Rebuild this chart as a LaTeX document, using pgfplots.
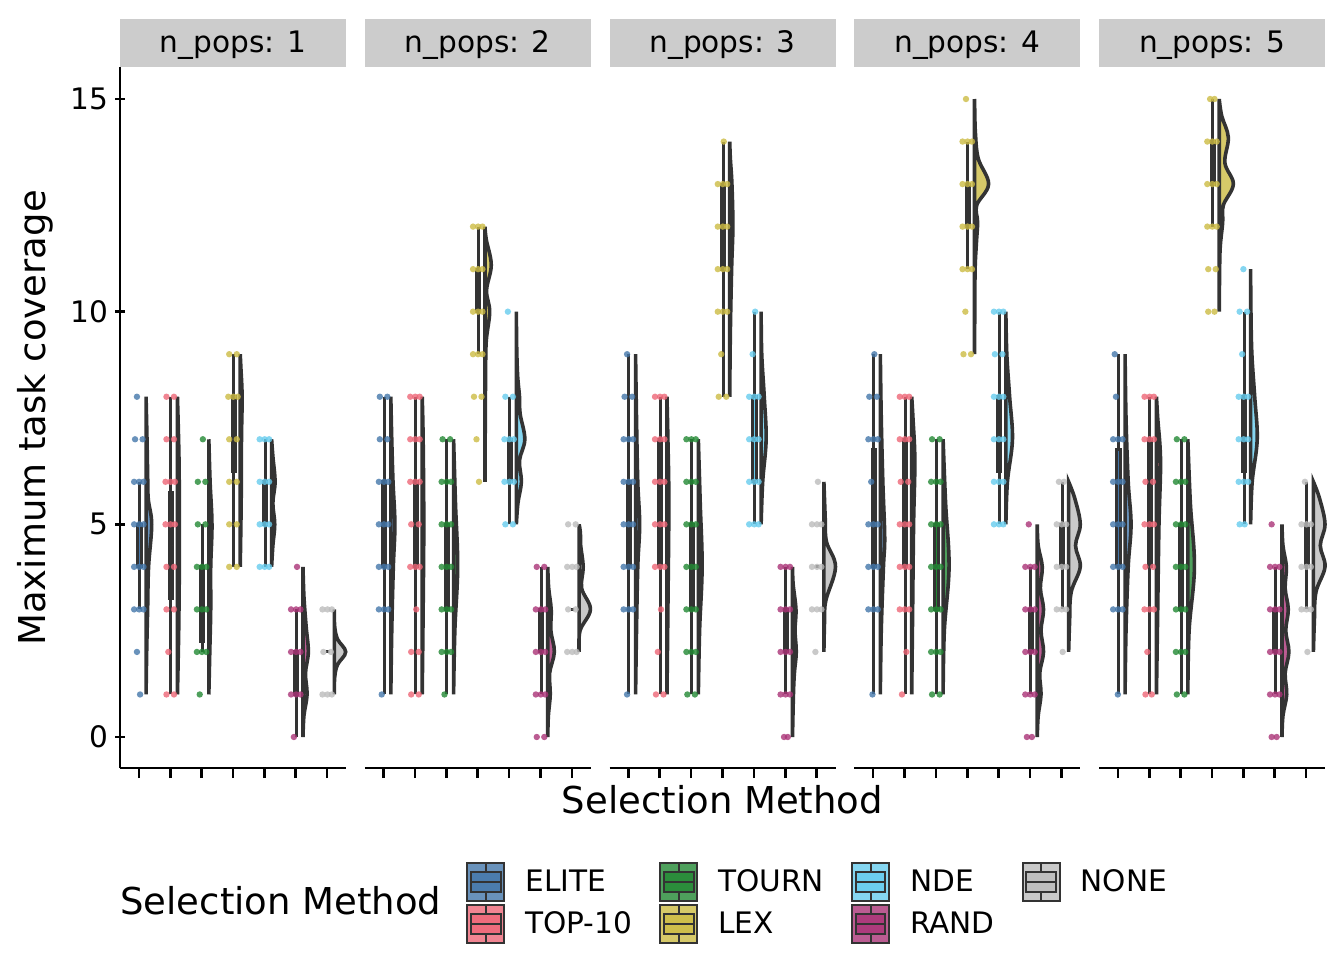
\documentclass[border=0pt]{standalone}
\usepackage{fontspec}
\setmainfont{DejaVu Sans}
\usepackage{pgfplots}
\pgfplotsset{compat=1.18}
\usepgfplotslibrary{statistics}
\definecolor{cE}{HTML}{4477AA}
\definecolor{cT}{HTML}{EE6677}
\definecolor{cR}{HTML}{228833}
\definecolor{cL}{HTML}{CCBB44}
\definecolor{cN}{HTML}{66CCEE}
\definecolor{cA}{HTML}{AA3377}
\definecolor{cO}{HTML}{BBBBBB}
\definecolor{dk}{HTML}{333333}
\definecolor{stripc}{HTML}{CCCCCC}
\newcommand{\fs}{\fontsize{14.8}{17}\selectfont}
\newcommand{\fl}{\fontsize{18.5}{22}\selectfont}
\pgfplotsset{
 panel/.style={scale only axis, width=113pt, height=350.5pt, anchor=south west,
   xmin=0.4, xmax=7.6, ymin=-0.729, ymax=15.753,
   xtick={1,2,3,4,5,6,7}, xticklabels={},
   axis x line=bottom, axis line style={-, line width=1.3pt, black},
   tick align=outside, major tick length=5pt, tick style={line width=1.3pt, black},
   clip=false, /pgf/number format/assume math mode=true, ticklabel style={font=\fs}},
 pts/.style={only marks, color=#1, mark=*, mark size=1.6pt, mark options={draw opacity=0, fill=#1, fill opacity=0.8}, forget plot},
 bxs/.style={draw=dk, fill=#1, line width=1.5pt, solid, forget plot, /pgfplots/boxplot/draw direction=y, /pgfplots/boxplot/box extend=0.1, /pgfplots/boxplot/whisker extend=0},
 vio/.style={draw=dk, fill=#1, fill opacity=0.8, line width=1.8pt, smooth, tension=0.6, forget plot},
}
\newcommand{\bx}[7]{\addplot[bxs=#1, boxplot prepared={draw position=#2, lower whisker=#3, lower quartile=#4, median=#5, upper quartile=#6, upper whisker=#7}] coordinates {};}
\newcommand{\keycode}[1]{%
 \fill[#1, fill opacity=0.8] (0pt,-9.5pt) rectangle (18.5pt,9.5pt);
 \draw[dk, line width=1pt] (0pt,-9.5pt) rectangle (18.5pt,9.5pt);
 \fill[#1, fill opacity=0.8] (1.8pt,-5pt) rectangle (16.7pt,5pt);
 \draw[dk, line width=1pt] (1.8pt,-5pt) rectangle (16.7pt,5pt);
 \draw[dk, line width=1pt] (1.8pt,0pt) -- (16.7pt,0pt);
 \draw[dk, line width=1pt] (9.25pt,5pt) -- (9.25pt,9.5pt) (9.25pt,-5pt) -- (9.25pt,-9.5pt);}
\begin{document}
\begin{tikzpicture}
\useasboundingbox (0,0) rectangle (672pt,480pt);
% ---------------- panel 1 ----------------
\begin{axis}[panel, at={(60pt,96pt)}, axis y line=left, ytick={0,5,10,15},
  axis line style={-, line width=1.3pt, black}, y axis line style={-},
  legend columns=4, legend cell align=left,
  legend style={at={(axis description cs:1.531,-0.134)}, anchor=north west, draw=none, fill=none,
   inner sep=0pt, font=\fs, row sep=1pt, nodes={inner sep=0pt},
   /tikz/every odd column/.append style={column sep=10pt},
   /tikz/every even column/.append style={column sep=13.5pt}}]
\addplot[pts=cE] coordinates {(0.94,8)(0.88,7)(1.12,7)(0.85,6)(1.01,6)(1.15,6)(0.85,5)(1.01,5)(1.15,5)(0.85,4)(1.01,4)(1.15,4)(0.85,3)(1.01,3)(1.15,3)(0.94,2)(1.04,1)};
\addplot[pts=cT] coordinates {(1.88,8)(2.12,8)(1.88,7)(2.12,7)(1.85,6)(2.01,6)(2.15,6)(1.85,5)(2.01,5)(2.15,5)(1.88,4)(2.12,4)(1.88,3)(2.12,3)(1.94,2)(1.88,1)(2.12,1)};
\addplot[pts=cR] coordinates {(3.04,7)(2.88,6)(3.12,6)(2.88,5)(3.12,5)(2.85,4)(3.01,4)(3.15,4)(2.85,3)(3.01,3)(3.15,3)(2.85,2)(3.01,2)(3.15,2)(2.94,1)};
\addplot[pts=cL] coordinates {(3.88,9)(4.12,9)(3.85,8)(4.01,8)(4.15,8)(3.88,7)(4.12,7)(3.88,6)(4.12,6)(3.88,5)(4.12,5)(3.88,4)(4.12,4)};
\addplot[pts=cN] coordinates {(4.85,7)(5.01,7)(5.15,7)(4.85,6)(5.01,6)(5.15,6)(4.85,5)(5.01,5)(5.15,5)(4.85,4)(5.01,4)(5.15,4)};
\addplot[pts=cA] coordinates {(6.04,4)(5.85,3)(6.01,3)(6.15,3)(5.85,2)(6.01,2)(6.15,2)(5.85,1)(6.01,1)(6.15,1)(5.94,0)};
\addplot[pts=cO] coordinates {(6.85,3)(7.01,3)(7.15,3)(6.88,2)(7.12,2)(6.85,1)(7.01,1)(7.15,1)};
\bx{cE}{1.02}{3}{4}{4}{5}{6}
\bx{cT}{2.02}{1}{3.25}{4.5}{5.75}{8}
\bx{cR}{3.02}{2}{2.25}{3}{4}{5}
\bx{cL}{4.02}{4}{6.25}{7}{8}{9}
\bx{cN}{5.02}{4}{5}{6}{6}{7}
\bx{cA}{6.02}{0}{1}{2}{2}{3}
\bx{cO}{7.02}{2}{2}{2}{2}{2}
\addplot[vio=cE] coordinates {(1.23,1)(1.25,2)(1.28,3)(1.31,4)(1.41,5)(1.3,5.6)(1.28,6.2)(1.26,7)(1.23,8)} -- cycle;
\addplot[vio=cT] coordinates {(2.23,1)(2.27,2.5)(2.29,4)(2.29,5)(2.28,6.5)(2.23,8)} -- cycle;
\addplot[vio=cR] coordinates {(3.23,1)(3.26,2)(3.29,3)(3.29,4)(3.33,5)(3.27,6)(3.23,7)} -- cycle;
\addplot[vio=cL] coordinates {(4.23,4)(4.26,5.5)(4.27,7)(4.29,8)(4.25,8.7)(4.23,9)} -- cycle;
\addplot[vio=cN] coordinates {(5.23,4)(5.27,4.5)(5.33,5)(5.27,5.5)(5.34,6)(5.27,6.6)(5.23,7)} -- cycle;
\addplot[vio=cA] coordinates {(6.23,0)(6.26,0.5)(6.36,1)(6.31,1.5)(6.40,2)(6.33,2.6)(6.26,3.3)(6.23,4)} -- cycle;
\addplot[vio=cO] coordinates {(7.23,1)(7.24,1.4)(7.33,1.7)(7.59,2)(7.33,2.3)(7.24,2.6)(7.23,3)} -- cycle;
\addlegendimage{legend image code/.code={\keycode{cE}}}\addlegendentry{ELITE}
\addlegendimage{legend image code/.code={\keycode{cR}}}\addlegendentry{TOURN}
\addlegendimage{legend image code/.code={\keycode{cN}}}\addlegendentry{NDE}
\addlegendimage{legend image code/.code={\keycode{cO}}}\addlegendentry{NONE}
\addlegendimage{legend image code/.code={\keycode{cT}}}\addlegendentry{TOP-10}
\addlegendimage{legend image code/.code={\keycode{cL}}}\addlegendentry{LEX}
\addlegendimage{legend image code/.code={\keycode{cA}}}\addlegendentry{RAND}
\end{axis}
% ---------------- panel 2 ----------------
\begin{axis}[panel, at={(182.375pt,96pt)}, axis y line=none, ytick=\empty]
\addplot[pts=cE] coordinates {(0.88,8)(1.12,8)(0.88,7)(1.12,7)(0.85,6)(1.01,6)(1.15,6)(0.85,5)(1.01,5)(1.15,5)(0.85,4)(1.01,4)(1.15,4)(0.85,3)(1.01,3)(1.15,3)(0.94,1)};
\addplot[pts=cT] coordinates {(1.85,8)(2.01,8)(2.15,8)(1.85,7)(2.01,7)(2.15,7)(1.85,6)(2.01,6)(2.15,6)(1.88,5)(2.12,5)(1.85,4)(2.01,4)(2.15,4)(2.04,3)(1.88,2)(2.12,2)(1.88,1)(2.12,1)};
\addplot[pts=cR] coordinates {(2.88,7)(3.12,7)(2.85,6)(3.01,6)(3.15,6)(2.85,5)(3.01,5)(3.15,5)(2.85,4)(3.01,4)(3.15,4)(2.85,3)(3.01,3)(3.15,3)(2.85,2)(3.01,2)(3.15,2)(2.94,1)};
\addplot[pts=cL] coordinates {(3.85,12)(4.01,12)(4.15,12)(3.85,11)(4.01,11)(4.15,11)(3.85,10)(4.01,10)(4.15,10)(3.85,9)(4.01,9)(4.15,9)(3.88,8)(4.12,8)(3.96,7)(4.04,6)};
\addplot[pts=cN] coordinates {(4.96,10)(4.88,8)(5.12,8)(4.85,7)(5.01,7)(5.15,7)(4.85,6)(5.01,6)(5.15,6)(4.88,5)(5.12,5)};
\addplot[pts=cA] coordinates {(5.88,4)(6.12,4)(5.85,3)(6.01,3)(6.15,3)(5.85,2)(6.01,2)(6.15,2)(5.85,1)(6.01,1)(6.15,1)(5.88,0)(6.12,0)};
\addplot[pts=cO] coordinates {(6.88,5)(7.12,5)(6.85,4)(7.01,4)(7.15,4)(6.88,3)(7.12,3)(6.85,2)(7.01,2)(7.15,2)};
\bx{cE}{1.02}{1}{4}{5}{6}{8}
\bx{cT}{2.02}{1}{4}{5}{6}{8}
\bx{cR}{3.02}{1}{3}{4}{5}{7}
\bx{cL}{4.02}{9}{10}{10}{11}{12}
\bx{cN}{5.02}{5}{6}{7}{7}{8}
\bx{cA}{6.02}{1}{2}{2}{3}{4}
\bx{cO}{7.02}{3}{3}{3}{3}{3}
\addplot[vio=cE] coordinates {(1.23,1)(1.26,2.5)(1.31,4)(1.36,5)(1.3,6)(1.26,7)(1.23,8)} -- cycle;
\addplot[vio=cT] coordinates {(2.23,1)(2.26,3)(2.28,5)(2.26,7)(2.23,8)} -- cycle;
\addplot[vio=cR] coordinates {(3.23,1)(3.27,2.5)(3.36,4)(3.29,5.5)(3.23,7)} -- cycle;
\addplot[vio=cL] coordinates {(4.23,6)(4.24,7.5)(4.25,8.5)(4.27,9.3)(4.38,10)(4.28,10.5)(4.43,11.1)(4.27,11.7)(4.23,12)} -- cycle;
\addplot[vio=cN] coordinates {(5.23,5)(5.28,5.5)(5.39,6)(5.33,6.5)(5.5,7)(5.35,7.6)(5.33,8)(5.27,8.5)(5.24,9.2)(5.23,10)} -- cycle;
\addplot[vio=cA] coordinates {(6.23,0)(6.25,0.5)(6.31,1)(6.29,1.5)(6.44,2)(6.33,2.5)(6.34,3)(6.26,3.5)(6.23,4)} -- cycle;
\addplot[vio=cO] coordinates {(7.23,2)(7.26,2.5)(7.59,3)(7.31,3.5)(7.36,4)(7.28,4.5)(7.27,4.8)(7.23,5)} -- cycle;
\end{axis}
% ---------------- panel 3 ----------------
\begin{axis}[panel, at={(304.75pt,96pt)}, axis y line=none, ytick=\empty]
\addplot[pts=cE] coordinates {(0.96,9)(0.88,8)(1.12,8)(0.85,7)(1.01,7)(1.15,7)(0.85,6)(1.01,6)(1.15,6)(0.85,5)(1.01,5)(1.15,5)(0.85,4)(1.01,4)(1.15,4)(0.85,3)(1.01,3)(1.15,3)(0.96,1)};
\addplot[pts=cT] coordinates {(1.85,8)(2.01,8)(2.15,8)(1.85,7)(2.01,7)(2.15,7)(1.85,6)(2.01,6)(2.15,6)(1.85,5)(2.01,5)(2.15,5)(1.85,4)(2.01,4)(2.15,4)(2.04,3)(1.94,2)(1.88,1)(2.12,1)};
\addplot[pts=cR] coordinates {(2.85,7)(3.01,7)(3.15,7)(2.85,6)(3.01,6)(3.15,6)(2.85,5)(3.01,5)(3.15,5)(2.85,4)(3.01,4)(3.15,4)(2.85,3)(3.01,3)(3.15,3)(2.85,2)(3.01,2)(3.15,2)(2.88,1)(3.12,1)};
\addplot[pts=cL] coordinates {(4.04,14)(3.85,13)(4.01,13)(4.15,13)(3.85,12)(4.01,12)(4.15,12)(3.85,11)(4.01,11)(4.15,11)(3.85,10)(4.01,10)(4.15,10)(3.96,9)(3.88,8)(4.12,8)};
\addplot[pts=cN] coordinates {(5.04,10)(4.96,9)(4.85,8)(5.01,8)(5.15,8)(4.85,7)(5.01,7)(5.15,7)(4.85,6)(5.01,6)(5.15,6)(4.85,5)(5.01,5)(5.15,5)};
\addplot[pts=cA] coordinates {(5.85,4)(6.01,4)(6.15,4)(5.85,3)(6.01,3)(6.15,3)(5.85,2)(6.01,2)(6.15,2)(5.85,1)(6.01,1)(6.15,1)(5.96,0)(6.08,0)};
\addplot[pts=cO] coordinates {(7.04,6)(6.85,5)(7.01,5)(7.15,5)(6.85,4)(7.01,4)(7.15,4)(6.85,3)(7.01,3)(7.15,3)(6.96,2)};
\bx{cE}{1.02}{1}{4}{5}{6}{9}
\bx{cT}{2.02}{1}{4}{5}{7}{8}
\bx{cR}{3.02}{1}{3}{4}{5}{7}
\bx{cL}{4.02}{8}{11}{12}{13}{14}
\bx{cN}{5.02}{5}{6}{7}{8}{10}
\bx{cA}{6.02}{1}{2}{2}{3}{4}
\bx{cO}{7.02}{4}{4}{4}{4}{4}
\addplot[vio=cE] coordinates {(1.23,1)(1.26,2.5)(1.3,4)(1.36,5)(1.3,6)(1.26,7.5)(1.23,9)} -- cycle;
\addplot[vio=cT] coordinates {(2.23,1)(2.26,3)(2.29,5.5)(2.26,7)(2.23,8)} -- cycle;
\addplot[vio=cR] coordinates {(3.23,1)(3.27,2.5)(3.35,4)(3.29,5.5)(3.23,7)} -- cycle;
\addplot[vio=cL] coordinates {(4.23,8)(4.25,9.5)(4.29,11)(4.33,12)(4.3,13)(4.25,13.6)(4.23,14)} -- cycle;
\addplot[vio=cN] coordinates {(5.23,5)(5.28,6)(5.39,7)(5.33,8)(5.25,9)(5.23,10)} -- cycle;
\addplot[vio=cA] coordinates {(6.23,0)(6.26,1)(6.29,1.5)(6.35,2)(6.31,2.5)(6.34,3)(6.25,3.6)(6.23,4)} -- cycle;
\addplot[vio=cO] coordinates {(7.23,2)(7.25,2.7)(7.29,3.2)(7.6,4)(7.31,4.6)(7.27,5.2)(7.23,6)} -- cycle;
\end{axis}
% ---------------- panel 4 ----------------
\begin{axis}[panel, at={(427.125pt,96pt)}, axis y line=none, ytick=\empty]
\addplot[pts=cE] coordinates {(1.04,9)(0.88,8)(1.12,8)(0.85,7)(1.01,7)(1.15,7)(0.94,6)(0.85,5)(1.01,5)(1.15,5)(0.85,4)(1.01,4)(1.15,4)(0.85,3)(1.01,3)(1.15,3)(0.98,1)};
\addplot[pts=cT] coordinates {(1.85,8)(2.01,8)(2.15,8)(1.85,7)(2.01,7)(2.15,7)(1.88,6)(2.12,6)(1.85,5)(2.01,5)(2.15,5)(1.85,4)(2.01,4)(2.15,4)(1.85,3)(2.01,3)(2.15,3)(2.06,2)(1.92,1)};
\addplot[pts=cR] coordinates {(2.88,7)(3.12,7)(2.85,6)(3.01,6)(3.15,6)(2.85,5)(3.01,5)(3.15,5)(2.85,4)(3.01,4)(3.15,4)(2.85,3)(3.01,3)(3.15,3)(2.85,2)(3.01,2)(3.15,2)(2.88,1)(3.12,1)};
\addplot[pts=cL] coordinates {(3.96,15)(3.85,14)(4.01,14)(4.15,14)(3.85,13)(4.01,13)(4.15,13)(3.85,12)(4.01,12)(4.15,12)(3.85,11)(4.01,11)(4.15,11)(3.94,10)(3.88,9)(4.12,9)};
\addplot[pts=cN] coordinates {(4.85,10)(5.01,10)(5.15,10)(4.88,9)(5.12,9)(4.85,8)(5.01,8)(5.15,8)(4.85,7)(5.01,7)(5.15,7)(4.85,6)(5.01,6)(5.15,6)(4.85,5)(5.01,5)(5.15,5)};
\addplot[pts=cA] coordinates {(5.96,5)(5.85,4)(6.01,4)(6.15,4)(5.85,3)(6.01,3)(6.15,3)(5.85,2)(6.01,2)(6.15,2)(5.85,1)(6.01,1)(6.15,1)(5.9,0)(6.06,0)};
\addplot[pts=cO] coordinates {(6.92,6)(7.08,6)(6.85,5)(7.01,5)(7.15,5)(6.85,4)(7.01,4)(7.15,4)(6.85,3)(7.01,3)(7.15,3)(7.04,2)};
\bx{cE}{1.02}{1}{4}{5}{6.75}{9}
\bx{cT}{2.02}{1}{4}{5}{7}{8}
\bx{cR}{3.02}{1}{3}{4}{5}{7}
\bx{cL}{4.02}{11}{12}{13}{13}{14}
\bx{cN}{5.02}{5}{6.25}{7}{8}{10}
\bx{cA}{6.02}{1}{2}{2}{3}{4}
\bx{cO}{7.02}{3}{4}{4.5}{5}{6}
\addplot[vio=cE] coordinates {(1.23,1)(1.26,2.5)(1.33,4)(1.37,4.7)(1.31,6)(1.26,7.5)(1.23,9)} -- cycle;
\addplot[vio=cT] coordinates {(2.23,1)(2.26,3)(2.29,5)(2.33,6.5)(2.27,7.5)(2.23,8)} -- cycle;
\addplot[vio=cR] coordinates {(3.23,1)(3.27,2.5)(3.42,4)(3.31,5.5)(3.23,7)} -- cycle;
\addplot[vio=cL] coordinates {(4.23,9)(4.24,10)(4.25,11)(4.29,11.6)(4.33,12.1)(4.3,12.5)(4.68,13)(4.35,13.6)(4.26,14.2)(4.24,14.7)(4.23,15)} -- cycle;
\addplot[vio=cN] coordinates {(5.23,5)(5.28,6)(5.44,7)(5.35,8)(5.26,9)(5.23,10)} -- cycle;
\addplot[vio=cA] coordinates {(6.23,0)(6.26,0.5)(6.35,1)(6.31,1.5)(6.43,2)(6.35,2.5)(6.43,3)(6.33,3.5)(6.39,4)(6.26,4.5)(6.23,5)} -- cycle;
\addplot[vio=cO] coordinates {(7.23,2)(7.26,2.7)(7.31,3.4)(7.6,4)(7.45,4.5)(7.6,5)(7.43,5.6)(7.23,6)} -- cycle;
\end{axis}
% ---------------- panel 5 ----------------
\begin{axis}[panel, at={(549.5pt,96pt)}, axis y line=none, ytick=\empty]
\addplot[pts=cE] coordinates {(0.9,9)(0.94,8)(0.85,7)(1.01,7)(1.15,7)(0.85,6)(1.01,6)(1.15,6)(0.85,5)(1.01,5)(1.15,5)(0.85,4)(1.01,4)(1.15,4)(0.85,3)(1.01,3)(1.15,3)(1.0,1)};
\addplot[pts=cT] coordinates {(1.85,8)(2.01,8)(2.15,8)(1.85,7)(2.01,7)(2.15,7)(1.88,6)(2.12,6)(1.85,5)(2.01,5)(2.15,5)(1.88,4)(2.12,4)(1.85,3)(2.01,3)(2.15,3)(1.94,2)(1.88,1)(2.08,1)};
\addplot[pts=cR] coordinates {(2.88,7)(3.12,7)(2.85,6)(3.01,6)(3.15,6)(2.85,5)(3.01,5)(3.15,5)(2.85,4)(3.01,4)(3.15,4)(2.85,3)(3.01,3)(3.15,3)(2.85,2)(3.01,2)(3.15,2)(2.88,1)(3.12,1)};
\addplot[pts=cL] coordinates {(3.94,15)(4.08,15)(3.85,14)(4.01,14)(4.15,14)(3.85,13)(4.01,13)(4.15,13)(3.85,12)(4.01,12)(4.15,12)(3.88,11)(4.12,11)(3.88,10)(4.08,10)};
\addplot[pts=cN] coordinates {(5.0,11)(4.88,10)(5.12,10)(4.96,9)(4.85,8)(5.01,8)(5.15,8)(4.85,7)(5.01,7)(5.15,7)(4.85,6)(5.01,6)(5.15,6)(4.88,5)(5.04,5)};
\addplot[pts=cA] coordinates {(5.9,5)(5.85,4)(6.01,4)(6.15,4)(5.85,3)(6.01,3)(6.15,3)(5.85,2)(6.01,2)(6.15,2)(5.85,1)(6.01,1)(6.15,1)(5.9,0)(6.06,0)};
\addplot[pts=cO] coordinates {(6.96,6)(6.85,5)(7.01,5)(7.15,5)(6.85,4)(7.01,4)(7.15,4)(6.85,3)(7.01,3)(7.15,3)(7.04,2)};
\bx{cE}{1.02}{1}{4}{5}{6.75}{9}
\bx{cT}{2.02}{1}{4}{5}{7}{8}
\bx{cR}{3.02}{1}{3}{4}{5}{7}
\bx{cL}{4.02}{12}{13}{13}{14}{15}
\bx{cN}{5.02}{5}{6.25}{7}{8}{10}
\bx{cA}{6.02}{1}{2}{2}{3}{4}
\bx{cO}{7.02}{3}{4}{4.5}{5}{6}
\addplot[vio=cE] coordinates {(1.23,1)(1.26,2.5)(1.33,4)(1.42,5)(1.33,6)(1.26,7.5)(1.23,9)} -- cycle;
\addplot[vio=cT] coordinates {(2.23,1)(2.27,3)(2.31,5)(2.36,6.5)(2.27,7.5)(2.23,8)} -- cycle;
\addplot[vio=cR] coordinates {(3.23,1)(3.27,2.5)(3.44,4)(3.31,5.5)(3.23,7)} -- cycle;
\addplot[vio=cL] coordinates {(4.23,10)(4.24,10.8)(4.26,11.5)(4.34,12.1)(4.36,12.5)(4.68,13)(4.41,13.5)(4.52,14.1)(4.31,14.6)(4.23,15)} -- cycle;
\addplot[vio=cN] coordinates {(5.23,5)(5.28,6)(5.44,7)(5.36,8)(5.27,9)(5.24,10)(5.23,11)} -- cycle;
\addplot[vio=cA] coordinates {(6.23,0)(6.26,0.5)(6.38,1)(6.33,1.5)(6.45,2)(6.35,2.5)(6.43,3)(6.33,3.5)(6.37,4)(6.26,4.5)(6.23,5)} -- cycle;
\addplot[vio=cO] coordinates {(7.23,2)(7.26,2.7)(7.31,3.4)(7.6,4)(7.45,4.5)(7.6,5)(7.43,5.6)(7.23,6)} -- cycle;
\end{axis}
% ---------------- strips and titles ----------------
\fill[stripc] (60pt,446.5pt) rectangle (173pt,470.5pt);
\fill[stripc] (182.375pt,446.5pt) rectangle (295.375pt,470.5pt);
\fill[stripc] (304.75pt,446.5pt) rectangle (417.75pt,470.5pt);
\fill[stripc] (427.125pt,446.5pt) rectangle (540.125pt,470.5pt);
\fill[stripc] (549.5pt,446.5pt) rectangle (662.5pt,470.5pt);
\node[font=\fs] at (116.5pt,457.5pt) {n\_pops: 1};
\node[font=\fs] at (238.875pt,457.5pt) {n\_pops: 2};
\node[font=\fs] at (361.25pt,457.5pt) {n\_pops: 3};
\node[font=\fs] at (483.625pt,457.5pt) {n\_pops: 4};
\node[font=\fs] at (606pt,457.5pt) {n\_pops: 5};
\node[font=\fl] at (361.25pt,80pt) {Selection Method};
\node[font=\fl, rotate=90] at (17.5pt,271pt) {Maximum task coverage};
\node[font=\fl, anchor=west, inner sep=0pt] at (60pt,29.5pt) {Selection Method};
\end{tikzpicture}
\end{document}
